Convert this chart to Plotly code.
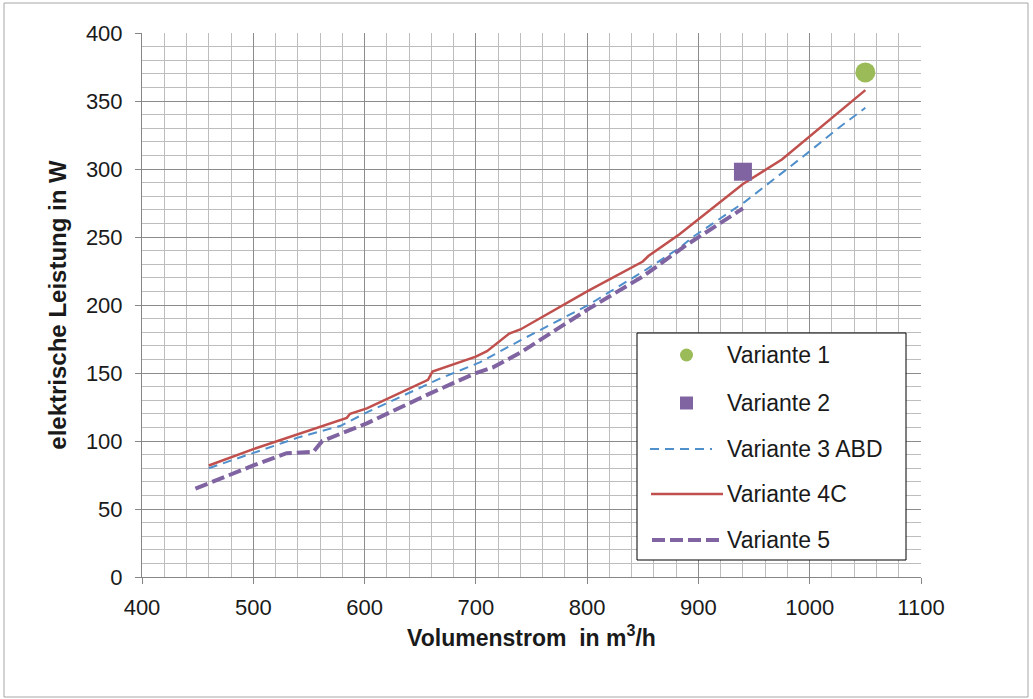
import plotly.graph_objects as go

# Volumenstrom (m³/h) and elektrische Leistung (W) per Variante
v1_x = [1050]
v1_y = [371]

v2_x = [940]
v2_y = [298]

v3_x = [460, 500, 542, 578, 602, 668, 704, 740, 801, 853, 883, 895, 942, 1000, 1024, 1050]
v3_y = [80, 91, 103, 111, 121, 146, 158, 174, 200, 226, 242, 250, 276, 313, 329, 345]

v4_x = [460, 500, 584, 587, 602, 657, 661, 700, 710, 730, 740, 800, 850, 855, 883, 940, 975, 1000, 1050]
v4_y = [82, 94, 117, 120, 124, 145, 151, 162, 166, 179, 182, 210, 232, 236, 252, 289, 307, 324, 358]

v5_x = [448, 500, 530, 554, 562, 602, 659, 700, 715, 740, 801, 850, 889, 940]
v5_y = [65, 82, 91, 92, 100, 113, 135, 150, 154, 165, 197, 221, 244, 271]

names = ["Variante 1", "Variante 2", "Variante 3 ABD", "Variante 4C", "Variante 5"]

x_ticks = [400, 500, 600, 700, 800, 900, 1000, 1100]
y_ticks = [0, 50, 100, 150, 200, 250, 300, 350, 400]

GREEN = "#9BBB59"
PURPLE = "#8064A2"
BLUE = "#4F8FCB"
RED = "#C0504D"
FONT = "Liberation Sans, Arial, sans-serif"
TEXT = "#1a1a1a"

fig = go.Figure()
fig.add_trace(go.Scatter(x=v3_x, y=v3_y, mode="lines", name=names[2],
                         line=dict(color=BLUE, width=2, dash="9px,6px")))
fig.add_trace(go.Scatter(x=v4_x, y=v4_y, mode="lines", name=names[3],
                         line=dict(color=RED, width=2.5)))
fig.add_trace(go.Scatter(x=v5_x, y=v5_y, mode="lines", name=names[4],
                         line=dict(color=PURPLE, width=4, dash="13px,5px")))
fig.add_trace(go.Scatter(x=v1_x, y=v1_y, mode="markers", name=names[0],
                         marker=dict(color=GREEN, size=20, symbol="circle")))
fig.add_trace(go.Scatter(x=v2_x, y=v2_y, mode="markers", name=names[1],
                         marker=dict(color=PURPLE, size=18, symbol="square")))

W, H = 1033, 699
ML, MR, MT, MB = 142, 112, 33, 122
PW, PH = W - ML - MR, H - MT - MB


def px(xp):
    return (xp - ML) / PW


def py(yp):
    return (H - MB - yp) / PH


shapes = []
annotations = []

# outer chart frame
shapes.append(dict(type="rect", xref="paper", yref="paper",
                   x0=px(4), x1=px(1028), y0=py(697), y1=py(3),
                   line=dict(color="#A6A6A6", width=1), layer="below"))

# legend box
shapes.append(dict(type="rect", xref="paper", yref="paper",
                   x0=px(637), x1=px(906), y0=py(560), y1=py(333),
                   line=dict(color="black", width=1), fillcolor="white"))

legend_rows = [355, 403, 449, 494, 540]
# legend symbols
shapes.append(dict(type="circle", xref="paper", yref="paper",
                   x0=px(680), x1=px(693), y0=py(legend_rows[0] + 6.5), y1=py(legend_rows[0] - 6.5),
                   line=dict(width=0), fillcolor=GREEN))
shapes.append(dict(type="rect", xref="paper", yref="paper",
                   x0=px(680), x1=px(693), y0=py(legend_rows[1] + 6.5), y1=py(legend_rows[1] - 6.5),
                   line=dict(width=0), fillcolor=PURPLE))
shapes.append(dict(type="line", xref="paper", yref="paper",
                   x0=px(650), x1=px(712), y0=py(legend_rows[2]), y1=py(legend_rows[2]),
                   line=dict(color=BLUE, width=2, dash="9px,6px")))
shapes.append(dict(type="line", xref="paper", yref="paper",
                   x0=px(651), x1=px(723), y0=py(legend_rows[3]), y1=py(legend_rows[3]),
                   line=dict(color=RED, width=2.5)))
shapes.append(dict(type="line", xref="paper", yref="paper",
                   x0=px(652), x1=px(722), y0=py(legend_rows[4]), y1=py(legend_rows[4]),
                   line=dict(color=PURPLE, width=4, dash="13px,5px")))

for name, row in zip(names, legend_rows):
    annotations.append(dict(text=name, xref="paper", yref="paper",
                            x=px(725), y=py(row), xanchor="left", yanchor="middle",
                            showarrow=False, font=dict(family=FONT, size=23, color=TEXT)))

fig.update_layout(
    width=W, height=H,
    margin=dict(l=ML, r=MR, t=MT, b=MB),
    paper_bgcolor="white", plot_bgcolor="white",
    showlegend=False,
    font=dict(family=FONT, size=22, color=TEXT),
    shapes=shapes,
    annotations=annotations,
)

fig.update_xaxes(
    range=[400, 1100], tickvals=x_ticks, ticktext=[str(v) for v in x_ticks],
    showgrid=True, gridcolor="#8C8C8C", gridwidth=1,
    minor=dict(dtick=20, tick0=400, showgrid=True, gridcolor="#BDBDBD", gridwidth=1, ticks=""),
    showline=True, linecolor="#868686", linewidth=1,
    ticks="outside", ticklen=6, tickcolor="#868686",
    ticklabelstandoff=5,
    tickfont=dict(family=FONT, size=22, color=TEXT),
    title=dict(text="<b>Volumenstrom  in m<sup>3</sup>/h</b>",
               font=dict(family=FONT, size=23, color=TEXT), standoff=10),
    zeroline=False,
)
fig.update_yaxes(
    range=[0, 400], tickvals=y_ticks, ticktext=[str(v) for v in y_ticks],
    showgrid=True, gridcolor="#8C8C8C", gridwidth=1,
    minor=dict(dtick=10, tick0=0, showgrid=True, gridcolor="#BDBDBD", gridwidth=1, ticks=""),
    showline=True, linecolor="#868686", linewidth=1,
    ticks="outside", ticklen=6, tickcolor="#868686",
    ticklabelstandoff=8,
    tickfont=dict(family=FONT, size=22, color=TEXT),
    title=dict(text="<b>elektrische Leistung in W</b>",
               font=dict(family=FONT, size=24, color=TEXT), standoff=12),
    zeroline=False,
)

fig.write_html("out.html")
